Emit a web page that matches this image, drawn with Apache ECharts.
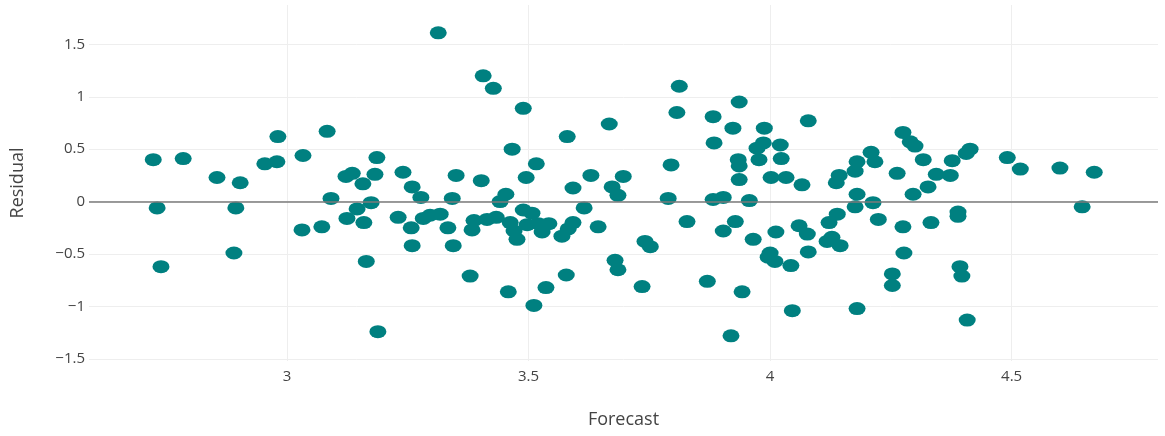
<!DOCTYPE html>
<html>
<head>
<meta charset="utf-8">
<script src="https://cdn.jsdelivr.net/npm/echarts@6/dist/echarts.min.js"></script>
<style>
html,body{margin:0;padding:0;background:#fff;}
#chart{width:1165px;height:436px;}
</style>
</head>
<body>
<div id="chart"></div>
<script>
const xTicks = [3, 3.5, 4, 4.5];
const yTicks = [-1.5, -1, -0.5, 0, 0.5, 1, 1.5];

const forecast = [
  2.723, 2.731, 2.739, 2.785, 2.855, 2.903, 2.894, 2.890, 2.954, 2.979,
  2.981, 3.033, 3.031, 3.072, 3.083, 3.091, 3.122, 3.135, 3.157, 3.186,
  3.182, 3.174, 3.145, 3.124, 3.159, 3.164, 3.188, 3.240, 3.259, 3.277,
  3.230, 3.257, 3.282, 3.296, 3.317, 3.259, 3.333, 3.350, 3.342, 3.344,
  3.313, 3.406, 3.427, 3.489, 3.667, 3.580, 3.466, 3.516, 3.495, 3.402,
  3.453, 3.441, 3.592, 3.629, 3.615, 3.673, 3.685, 3.644, 3.387, 3.383,
  3.414, 3.433, 3.462, 3.470, 3.476, 3.489, 3.507, 3.497, 3.520, 3.528,
  3.542, 3.569, 3.582, 3.592, 3.379, 3.458, 3.511, 3.536, 3.578, 3.679,
  3.685, 3.812, 3.807, 3.936, 3.882, 3.923, 3.988, 3.884, 3.986, 3.973,
  4.021, 3.977, 3.934, 3.936, 4.023, 3.795, 3.936, 4.002, 4.033, 3.696,
  3.789, 3.882, 3.903, 3.957, 3.828, 3.928, 3.903, 3.965, 4.012, 3.741,
  3.752, 4.000, 3.996, 4.010, 3.735, 3.870, 3.942, 3.919, 4.079, 4.066,
  4.275, 4.290, 4.300, 4.209, 4.180, 4.217, 4.317, 4.263, 4.176, 4.143,
  4.137, 4.344, 4.327, 4.296, 4.180, 4.176, 4.213, 4.224, 4.139, 4.122,
  4.275, 4.333, 4.060, 4.077, 4.128, 4.118, 4.145, 4.079, 4.043, 4.277,
  4.253, 4.253, 4.046, 4.180, 4.414, 4.406, 4.377, 4.373, 4.491, 4.518,
  4.600, 4.646, 4.671, 4.389, 4.389, 4.393, 4.397, 4.408
];

const residual = [
  0.40, -0.06, -0.62, 0.41, 0.23, 0.18, -0.06, -0.49, 0.36, 0.38,
  0.62, 0.44, -0.27, -0.24, 0.67, 0.03, 0.24, 0.27, 0.17, 0.42,
  0.26, -0.01, -0.07, -0.16, -0.20, -0.57, -1.24, 0.28, 0.14, 0.04,
  -0.15, -0.25, -0.16, -0.13, -0.12, -0.42, -0.25, 0.25, 0.03, -0.42,
  1.61, 1.20, 1.08, 0.89, 0.74, 0.62, 0.50, 0.36, 0.23, 0.20,
  0.07, 0.00, 0.13, 0.25, -0.06, 0.14, 0.06, -0.24, -0.18, -0.27,
  -0.17, -0.15, -0.20, -0.28, -0.36, -0.08, -0.11, -0.22, -0.21, -0.29,
  -0.21, -0.33, -0.26, -0.20, -0.71, -0.86, -0.99, -0.82, -0.70, -0.56,
  -0.65, 1.10, 0.85, 0.95, 0.81, 0.70, 0.70, 0.56, 0.56, 0.51,
  0.54, 0.40, 0.40, 0.34, 0.41, 0.35, 0.21, 0.23, 0.23, 0.24,
  0.03, 0.02, 0.04, 0.01, -0.19, -0.19, -0.28, -0.36, -0.29, -0.38,
  -0.43, -0.49, -0.53, -0.57, -0.81, -0.76, -0.86, -1.28, 0.77, 0.16,
  0.66, 0.57, 0.53, 0.47, 0.38, 0.38, 0.40, 0.27, 0.29, 0.25,
  0.18, 0.26, 0.14, 0.07, 0.07, -0.05, -0.01, -0.17, -0.12, -0.20,
  -0.24, -0.20, -0.23, -0.31, -0.34, -0.38, -0.42, -0.48, -0.61, -0.49,
  -0.69, -0.80, -1.04, -1.02, 0.50, 0.46, 0.39, 0.25, 0.42, 0.31,
  0.32, -0.05, 0.28, -0.10, -0.14, -0.62, -0.71, -1.13
];

const points = forecast.map((f, i) => [f, residual[i]]);

const fmt = v => (v < 0 ? '\u2212' + Math.abs(v) : String(v));
const font = "'Open Sans', 'Liberation Sans', Arial, sans-serif";

const chart = echarts.init(document.getElementById('chart'));
chart.setOption({
  animation: false,
  backgroundColor: '#ffffff',
  grid: { left: 89, right: 7, top: 5, bottom: 75, containLabel: false },
  xAxis: {
    type: 'value',
    min: 2.59,
    max: 4.803,
    name: 'Forecast',
    nameLocation: 'middle',
    nameGap: 50,
    nameTextStyle: { fontSize: 18, color: '#444', fontFamily: font },
    axisLine: { show: false },
    axisTick: { show: false, customValues: xTicks },
    axisLabel: { customValues: xTicks, fontSize: 15, color: '#444', fontFamily: font, margin: 8, formatter: fmt },
    splitLine: { show: true, lineStyle: { color: '#eeeeee', width: 1 } }
  },
  yAxis: {
    type: 'value',
    min: -1.52,
    max: 1.875,
    name: 'Residual',
    nameLocation: 'middle',
    nameGap: 62,
    nameTextStyle: { fontSize: 18, color: '#444', fontFamily: font },
    axisLine: { show: false },
    axisTick: { show: false, customValues: yTicks },
    axisLabel: { customValues: yTicks, fontSize: 15, color: '#444', fontFamily: font, margin: 4, formatter: fmt },
    splitLine: { show: true, lineStyle: { color: '#eeeeee', width: 1 } }
  },
  series: [
    {
      type: 'scatter',
      data: [],
      z: 1,
      silent: true,
      markLine: {
        silent: true,
        symbol: 'none',
        label: { show: false },
        lineStyle: { color: '#7a7a7a', width: 1.5, type: 'solid' },
        data: [{ yAxis: 0 }]
      }
    },
    {
      type: 'scatter',
      z: 2,
      data: points,
      symbol: 'circle',
      symbolSize: [17, 13],
      itemStyle: { color: '#008080', opacity: 1 }
    }
  ]
});
</script>
</body>
</html>
